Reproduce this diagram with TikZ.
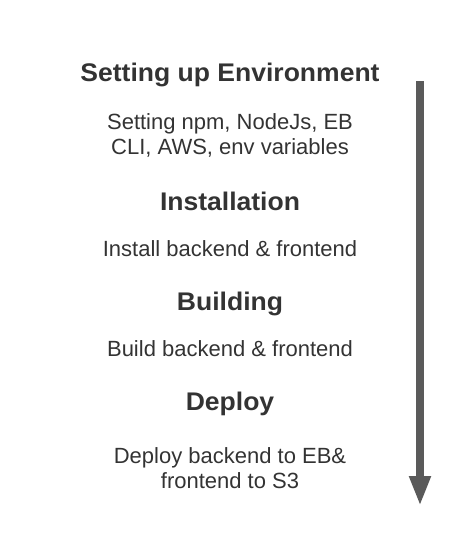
\documentclass[tikz,border=0pt]{standalone}
\usepackage{fontspec}
\setmainfont{Liberation Sans}
\newfontfamily\titlefont[FakeStretch=1.04]{Liberation Sans Bold}
\usetikzlibrary{arrows.meta}
\definecolor{txt}{HTML}{333333}
\definecolor{arr}{HTML}{5A5A5A}
\tikzset{
  heading/.style={anchor=base, inner sep=0pt, text=txt, font=\titlefont\fontsize{25.5}{28}\selectfont},
  body/.style={anchor=base, inner sep=0pt, text=txt, align=center, font=\fontsize{22}{25}\selectfont},
  flow/.style={draw=arr, line width=8pt, -{Triangle[width=20pt,length=30pt]}}
}
\begin{document}
\begin{tikzpicture}[x=1pt,y=-1pt]
\useasboundingbox (0,0) rectangle (465,557);
\node[heading] (h1) at (230,81) {Setting up Environment};
\node[body] (b1a) at (230,129.3) {Setting npm, NodeJs, EB};
\node[body] (b1b) at (230,154.3) {CLI, AWS, env variables};
\node[heading] (h2) at (230,210) {Installation};
\node[body] (b2) at (230,256) {Install backend \& frontend};
\node[heading] (h3) at (230,310) {Building};
\node[body] (b3) at (230,356) {Build backend \& frontend};
\node[heading] (h4) at (230,410) {Deploy};
\node[body] (b4a) at (230,463) {Deploy backend to EB\&};
\node[body] (b4b) at (230,488) {frontend to S3};
\coordinate (top) at (420,81);
\coordinate (bot) at (420,506);
\draw[flow] (top) -- (bot);
\end{tikzpicture}
\end{document}
